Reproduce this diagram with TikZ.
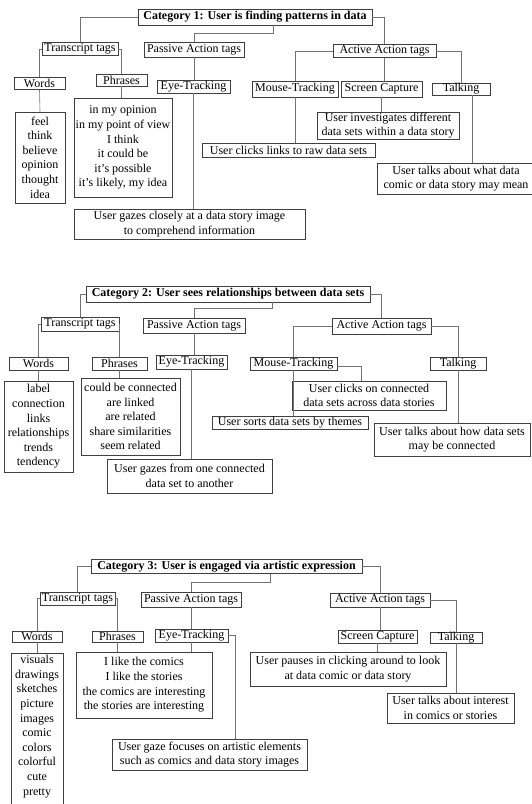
\documentclass[tikz,border=0pt]{standalone}
\usepackage{fontspec}
\setmainfont{Liberation Serif}
\tikzset{every path/.style={black!55, line width=0.6pt},
  every node/.style={draw=black!75, text=black, inner sep=0pt, align=center, font=\fontsize{12}{14.6}\selectfont},
  box/.style 2 args={minimum width=#1pt, minimum height=#2pt},
  cathead/.style={font=\fontsize{12}{14.6}\selectfont\bfseries}}

\begin{document}
\begin{tikzpicture}[x=1pt, y=-1pt]
  \useasboundingbox (0,0) rectangle (532,804);
  \begin{scope}
   \node[box={234}{16}, cathead] (c1) at (255,17) {Category 1: User is finding patterns in data};
   \node[box={76}{13}] (tt1) at (80,49) {Transcript tags};
   \node[box={100}{15}] (pa1) at (194,49.5) {Passive Action tags};
   \node[box={103}{13}] (aa1) at (384.5,51) {Active Action tags};
   \node[box={51}{12}] (wd1) at (39.5,83) {Words};
   \node[box={51}{12}] (ph1) at (121.5,80) {Phrases};
   \node[box={73}{13}] (et1) at (193.5,86.5) {Eye-Tracking};
   \node[box={86}{16}] (mt1) at (295,89) {Mouse-Tracking};
   \node[box={81}{16}] (sc1) at (381.5,89) {Screen Capture};
   \node[box={58}{12}] (tk1) at (461,89) {Talking};
   \node[box={50}{91}] (wl1) at (40,157.5) {feel\\think\\believe\\opinion\\thought\\idea};
   \node[box={98}{99}] (pl1) at (123,147.8) {in my opinion\\in my point of view\\I think\\it could be\\it’s possible\\it’s likely, my idea};
   \node[box={231}{30}] (gz1) at (189.5,224) {User gazes closely at a data story image\\to comprehend information};
   \node[box={142}{27}] (iv1) at (388,125.5) {User investigates different\\data sets within a data story};
   \node[box={173}{14}] (cl1) at (288.5,150) {User clicks links to raw data sets};
   \node[box={158}{31}] (tl1) at (456,178.5) {User talks about what data\\comic or data story may mean};
   \coordinate (tk1s) at ([xshift=11pt]tk1.south);
   \draw (c1.west) -| (tt1.north);
   \draw ([xshift=18pt]c1.south) -- ++(0,8) -| (pa1.north);
   \draw (c1.east) -| (aa1.north);
   \draw (tt1.west) -| (wd1.north);
   \draw (tt1.east) -| (ph1.north);
   \draw (wd1.south) -- (wl1.north);
   \draw (ph1.south) -- (ph1.south |- pl1.north);
   \draw (pa1.south) -- (pa1.south |- et1.north);
   \draw (et1.south) -- (et1.south |- gz1.north);
   \draw (aa1.west) -| (mt1.north);
   \draw (aa1.south) -- (aa1.south |- sc1.north);
   \draw (aa1.east) -| (tk1.north);
   \draw (mt1.south) -- (mt1.south |- cl1.north);
   \draw (sc1.south) -- (sc1.south |- iv1.north);
   \draw (tk1s) -- (tk1s |- tl1.north);
  \end{scope}
  \begin{scope}[yshift=-277pt]
   \node[box={284}{16}, cathead] (c2) at (228,17) {Category 2: User sees relationships between data sets};
   \node[box={78}{14}] (tt2) at (80,47) {Transcript tags};
   \node[box={102}{15}] (pa2) at (194,48.5) {Passive Action tags};
   \node[box={99}{16}] (aa2) at (381.5,49) {Active Action tags};
   \node[box={59}{13}] (wd2) at (38.5,86.5) {Words};
   \node[box={55}{13}] (ph2) at (119.5,86.5) {Phrases};
   \node[box={71}{14}] (et2) at (191.5,85) {Eye-Tracking};
   \node[box={87}{13}] (mt2) at (293.5,86.5) {Mouse-Tracking};
   \node[box={56}{13}] (tk2) at (458,86.5) {Talking};
   \node[box={69}{91}] (wl2) at (38.5,149.5) {label\\connection\\links\\relationships\\trends\\tendency};
   \node[box={99}{77}] (pl2) at (130.5,139.5) {could be connected\\are linked\\are related\\share similarities\\seem related};
   \node[box={165}{34}] (gz2) at (189.5,199) {User gazes from one connected\\data set to another};
   \node[box={154}{29}] (co2) at (369,118.5) {User clicks on connected\\data sets across data stories};
   \node[box={156}{13}] (so2) at (290,145.5) {User sorts data sets by themes};
   \node[box={156}{33}] (tl2) at (452,162.5) {User talks about how data sets\\may be connected};
   \draw (c2.west) -| (tt2.north);
   \draw ([xshift=44pt]c2.south) -- ++(0,6) -| (pa2.north);
   \draw (c2.east) -| (aa2.north);
   \draw (tt2.west) -| (wd2.north);
   \draw (tt2.east) -| (ph2.north);
   \draw (wd2.south) -- (wl2.north);
   \draw (ph2.south) -- (ph2.south |- pl2.north);
   \draw (pa2.south) -- (pa2.south |- et2.north);
   \draw (et2.south) -- (et2.south |- gz2.north);
   \draw (aa2.west) -| (mt2.north);
   \draw ([yshift=-3pt]mt2.east) -| ([xshift=-8pt]co2.north);
   \draw (mt2.south) -- (mt2.south |- so2.north);
   \draw (aa2.east) -| (tk2.north);
   \draw (tk2.south) -- (tk2.south |- tl2.north);
  \end{scope}
  \begin{scope}[yshift=-550pt]
   \node[box={271}{14}, cathead] (c3) at (226.5,16.5) {Category 3: User is engaged via artistic expression};
   \node[box={75}{13}] (tt3) at (77.5,48.5) {Transcript tags};
   \node[box={100}{15}] (pa3) at (191,49.5) {Passive Action tags};
   \node[box={100}{14}] (aa3) at (380,50) {Active Action tags};
   \node[box={50}{11}] (wd3) at (37,86.5) {Words};
   \node[box={51}{11}] (ph3) at (117.5,86.5) {Phrases};
   \node[box={73}{13}] (et3) at (191.5,85.5) {Eye-Tracking};
   \node[box={79}{13}] (sc3) at (377.5,86.5) {Screen Capture};
   \node[box={52}{11}] (tk3) at (456,87.5) {Talking};
   \node[minimum width=52pt, anchor=north, inner ysep=2pt, text depth=20pt] (wl3) at (37,103) {visuals\\drawings\\sketches\\picture\\images\\comic\\colors\\colorful\\cute\\pretty};
   \node[box={136}{66}] (pl3) at (144,135) {I like the comics\\I like the stories\\the comics are interesting\\the stories are interesting};
   \node[box={195}{31}] (gz3) at (209.5,204.5) {User gaze focuses on artistic elements\\such as comics and data story images};
   \node[box={196}{34}] (ps3) at (348,119) {User pauses in clicking around to look\\at data comic or data story};
   \node[box={127}{30}] (tl3) at (450.5,158) {User talks about interest\\in comics or stories};
   \draw (c3.west) -| (tt3.north);
   \draw ([xshift=43.5pt]c3.south) -- ++(0,8) -| (pa3.north);
   \draw (c3.east) -| (aa3.north);
   \draw (tt3.west) -| (wd3.north);
   \draw (tt3.east) -| (ph3.north);
   \draw (wd3.south) -- (wl3.north);
   \draw (ph3.south) -- (ph3.south |- pl3.north);
   \draw (pa3.south) -- (pa3.south |- et3.north);
   \draw (et3.south) -- (et3.south |- pl3.north);
   \draw (et3.east) -| ([xshift=26pt]gz3.north);
   \draw (aa3.south) -- (aa3.south |- sc3.north);
   \draw (aa3.east) -| (tk3.north);
   \draw (sc3.south) -- (sc3.south |- ps3.north);
   \draw (tk3.south) -- (tk3.south |- tl3.north);
  \end{scope}
\end{tikzpicture}
\end{document}
